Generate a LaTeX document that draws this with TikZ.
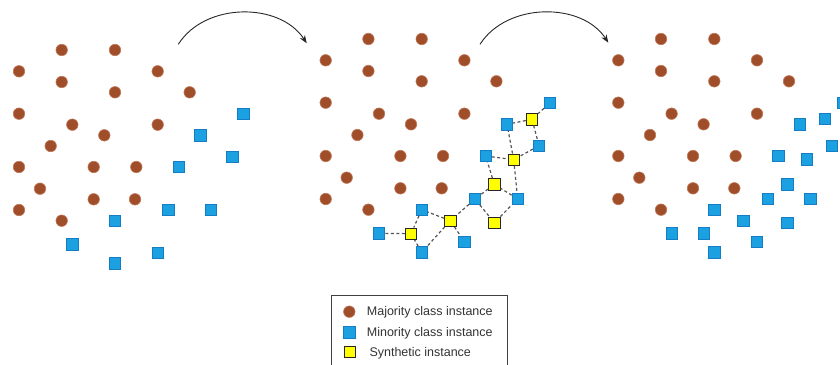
\documentclass[tikz,border=0pt]{standalone}
\usepackage{fontspec}
\setmainfont{Liberation Sans}
\usetikzlibrary{arrows.meta}
\definecolor{majfill}{RGB}{160,78,42}
\definecolor{majdraw}{RGB}{190,120,90}
\definecolor{minfill}{RGB}{27,161,226}
\definecolor{mindraw}{RGB}{20,125,195}
\definecolor{synfill}{RGB}{255,255,0}
\definecolor{linkgray}{RGB}{85,85,85}

\begin{document}
\begin{tikzpicture}[x=1pt, y=-1pt]
    \tikzstyle{major}=[circle, fill=majfill, draw=majdraw, line width=0.6pt, inner sep=0pt, minimum size=11.5pt]
    \tikzstyle{minor}=[rectangle, fill=minfill, draw=mindraw, line width=0.6pt, inner sep=0pt, minimum size=11.5pt]
    \tikzstyle{synth}=[rectangle, fill=synfill, draw=black!85, line width=0.9pt, inner sep=0pt, minimum size=11.5pt]
    \tikzstyle{link}=[linkgray, dash pattern=on 3pt off 2.5pt, line width=1.2pt]
    \tikzstyle{flow}=[black!85, line width=0.9pt, -{Stealth[length=8pt, width=6pt]}]
    \tikzstyle{legtext}=[anchor=base west, font=\fontsize{12.5}{15}\selectfont, text=black!80, inner sep=0pt]

    \useasboundingbox (0,0) rectangle (840,364);

    % the three panels share the majority points and the original minority points
    \foreach \dx/\dy/\p in {0/0/A, 306.7/11/B, 599.3/11/C} {
        \foreach \px/\py [count=\i] in {61.7/50, 115/50, 19/71.3, 157.7/71.3, 61.7/82, 115/92.3, 189.7/92.3, 19/113.7, 72.3/124.7, 157.7/124.7, 104.3/135.3, 50.7/146, 19/167, 93.7/167, 136.3/167, 40/188.7, 93.7/199.3, 135/199.3, 19/210, 61.7/220.7}
            \node[major] (\p-maj\i) at (\px+\dx, \py-\dy) {};
        \foreach \px/\py [count=\i] in {243.3/113.7, 200.3/135.3, 232.3/156.7, 179/167, 168.3/210, 211/210, 115/220.7, 72.3/244.3, 157.7/252.7, 115/263.3}
            \node[minor] (\p-min\i) at (\px+\dx, \py-\dy) {};
    }

    % synthetic points (middle panel)
    \node[synth] (B-syn1) at (532,119.3) {};
    \node[synth] (B-syn2) at (513.7,159.7) {};
    \node[synth] (B-syn3) at (494.3,184.3) {};
    \node[synth] (B-syn4) at (450.3,220.7) {};
    \node[synth] (B-syn5) at (411,233.7) {};
    \node[synth] (B-syn6) at (494.3,222.7) {};

    \draw[link] (B-min1) -- (B-syn1) -- (B-min2);
    \draw[link] (B-syn1) -- (B-min3) -- (B-syn2) -- (B-min2);
    \draw[link] (B-min4) -- (B-syn2) -- (B-min6) -- (B-syn3) -- (B-min4);
    \draw[link] (B-syn3) -- (B-min5) -- (B-syn6) -- (B-min6);
    \draw[link] (B-min5) -- (B-syn4) -- (B-min7) -- (B-syn5) -- (B-min8);
    \draw[link] (B-syn4) -- (B-min10) -- (B-syn5);
    \draw[link] (B-syn4) -- (B-min9);

    % synthetic points become minority (right panel)
    \node[minor] (C-new1) at (824.7,119) {};
    \node[minor] (C-new2) at (806.7,159.3) {};
    \node[minor] (C-new3) at (787.3,184.3) {};
    \node[minor] (C-new4) at (743.3,220.7) {};
    \node[minor] (C-new5) at (704,233.3) {};
    \node[minor] (C-new6) at (787.3,222.7) {};

    % arrows between panels
    \coordinate (flowA-s) at (178.3,44.3);
    \coordinate (flowA-e) at (306.7,43.3);
    \coordinate (flowB-s) at (480,44.3);
    \coordinate (flowB-e) at (608.3,42.7);
    \draw[flow] (flowA-s) .. controls (205,2) and (280,2) .. (flowA-e);
    \draw[flow] (flowB-s) .. controls (507,2) and (582,2) .. (flowB-e);

    % legend
    \draw[black!75, line width=0.8pt] (331,295) rectangle (507,372);
    \node[major] (leg-maj) at (349.3,311.7) {};
    \node[minor] (leg-min) at (349.3,332.3) {};
    \node[synth] (leg-syn) at (350,351.7) {};
    \node[legtext] (leg-majtext) at (366.7,315.9) {Majority class instance};
    \node[legtext] (leg-mintext) at (366.7,336.5) {Minority class instance};
    \node[legtext] (leg-syntext) at (369.3,356) {Synthetic instance};
\end{tikzpicture}
\end{document}
